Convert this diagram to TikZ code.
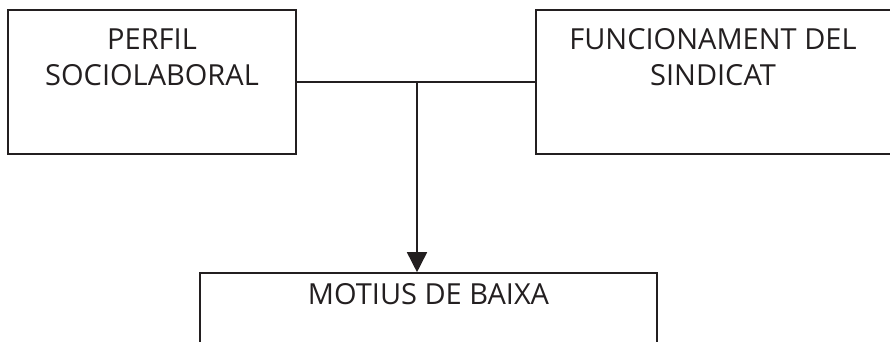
\documentclass[tikz,border=0pt]{standalone}
\usepackage{fontspec}
\setmainfont{Open Sans}
\usetikzlibrary{arrows.meta}
\definecolor{ink}{HTML}{231F20}
\tikzstyle{box} = [draw=ink, line width=1.6pt, rectangle, inner sep=0pt]
\tikzstyle{boxtext} = [font=\fontsize{29}{36}\selectfont, text=ink, align=center, inner sep=0pt, anchor=north]
\tikzstyle{arrow} = [draw=ink, line width=1.6pt, -{Triangle[width=20pt,length=20pt]}]

\begin{document}
\begin{tikzpicture}[x=1pt, y=-1pt]
        \clip (0,0) rectangle (890,342);
        % Node positions
        \node[box, minimum width=288pt, minimum height=144pt,
          label={[boxtext, yshift=-19pt]north:PERFIL\\SOCIOLABORAL}] (perfil) at (152,82) {};
        \node[box, minimum width=370pt, minimum height=144pt,
          label={[boxtext, yshift=-19pt, xshift=-8pt]north:FUNCIONAMENT DEL\\SINDICAT}] (sindicat) at (721,82) {};
        \node[box, minimum width=457pt, minimum height=150pt,
          label={[boxtext, yshift=-11pt]north:MOTIUS DE BAIXA}] (baixa) at (428.5,348) {};
        \coordinate (join) at (417,82);

        \draw[draw=ink, line width=1.6pt] (perfil.east) -- (sindicat.west);
        \draw[arrow] (join) -- (join |- baixa.north);
      \end{tikzpicture}
\end{document}
